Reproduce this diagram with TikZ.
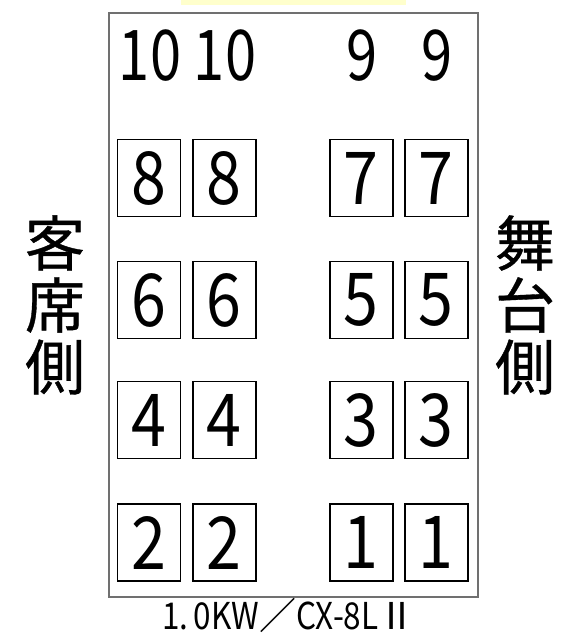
\documentclass[tikz,border=0pt]{standalone}
\usepackage{fontspec}
\setmainfont{Noto Sans CJK JP}
\newfontfamily\jpb[FakeBold=0.6]{Noto Sans CJK JP}
\definecolor{paleyellow}{HTML}{FFFFCC}
\definecolor{framegray}{HTML}{707070}
\newcommand{\dg}[1]{\scalebox{0.86}[1]{#1}}
\newcommand{\tn}[1]{\scalebox{0.8}[1]{#1}}
\tikzset{
  seat/.style={draw=black, line width=1.4pt, minimum width=63pt, minimum height=77pt, inner sep=0pt, font=\fontsize{73}{73}\selectfont},
  topnum/.style={inner sep=0pt, font=\fontsize{70}{70}\selectfont},
  side/.style={inner sep=0pt, font=\jpb\fontsize{60}{60}\selectfont},
  caption/.style={inner sep=0pt, font=\fontsize{37}{37}\selectfont},
}
\begin{document}
\begin{tikzpicture}[x=1pt,y=-1pt]
\useasboundingbox (0,0) rectangle (572,640);
\fill[paleyellow] (181,0) rectangle (406,5);
\draw[framegray, line width=1.2pt] (109,13) rectangle (478,597);
% top numbers
\node[topnum] (t1) at (150,56) {\tn{1\kern2pt0}};
\node[topnum] (t2) at (225,56) {\tn{1\kern2pt0}};
\node[topnum] (t3) at (362,56) {\tn{9}};
\node[topnum] (t4) at (437,56) {\tn{9}};
% boxes
\node[seat] (b8a) at (149,178) {\dg{8}};
\node[seat] (b8b) at (224.3,178) {\dg{8}};
\node[seat] (b7a) at (361.3,178) {\dg{7}};
\node[seat] (b7b) at (436.3,178) {\dg{7}};
\node[seat] (b6a) at (149,300) {\dg{6}};
\node[seat] (b6b) at (224.3,300) {\dg{6}};
\node[seat] (b5a) at (361.3,300) {\dg{5}};
\node[seat] (b5b) at (436.3,300) {\dg{5}};
\node[seat] (b4a) at (149,420) {\dg{4}};
\node[seat] (b4b) at (224.3,420) {\dg{4}};
\node[seat] (b3a) at (361.3,420) {\dg{3}};
\node[seat] (b3b) at (436.3,420) {\dg{3}};
\node[seat] (b2a) at (149,542.5) {\dg{2}};
\node[seat] (b2b) at (224.3,542.5) {\dg{2}};
\node[seat] (b1a) at (361.3,542.5) {\dg{1}};
\node[seat] (b1b) at (436.3,542.5) {\dg{1}};
% side labels
\node[side] (l1) at (55,243) {客};
\node[side] (l2) at (55,305) {席};
\node[side] (l3) at (55,367) {側};
\node[side] (r1) at (525,243) {舞};
\node[side] (r2) at (525,305) {台};
\node[side] (r3) at (525,367) {側};
% caption
\node[caption] (cap) at (289,615) {\scalebox{0.85}[1]{1.\,0KW}／\scalebox{0.85}[1]{CX-8L}Ⅱ};
\end{tikzpicture}
\end{document}
